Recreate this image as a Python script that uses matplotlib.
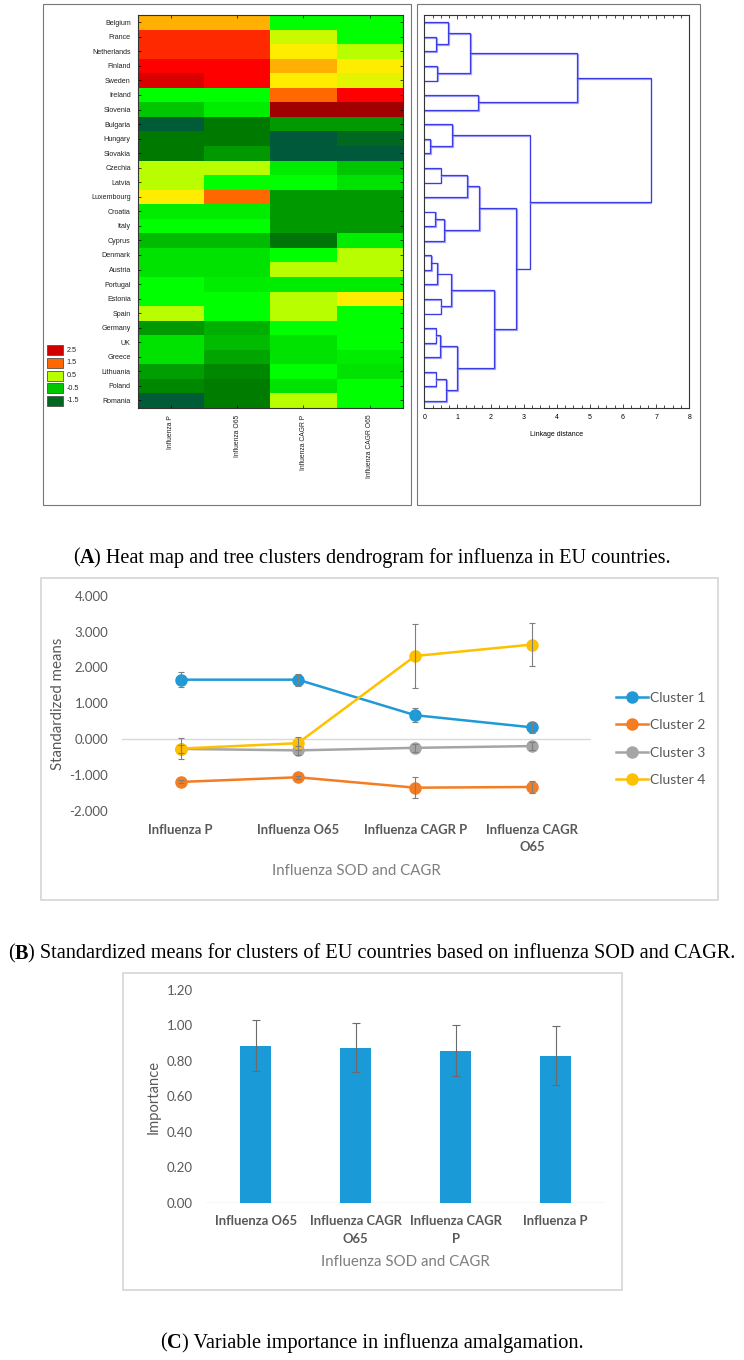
import matplotlib
matplotlib.use("Agg")
import matplotlib.pyplot as plt
import matplotlib.patheffects as pe
from matplotlib.colors import LinearSegmentedColormap, Normalize
from matplotlib.patches import Rectangle
from matplotlib.ticker import MultipleLocator

W, H = 744, 1360
SANS_A = "Liberation Sans"
SANS_B = "Lato"
SERIF = "Liberation Serif"
GREY_TXT = "#595959"

# ---- panel A data ----
countries = ["Belgium", "France", "Netherlands", "Finland", "Sweden", "Ireland", "Slovenia",
             "Bulgaria", "Hungary", "Slovakia", "Czechia", "Latvia", "Luxembourg", "Croatia",
             "Italy", "Cyprus", "Denmark", "Austria", "Portugal", "Estonia", "Spain", "Germany",
             "UK", "Greece", "Lithuania", "Poland", "Romania"]
heat_columns = ["Influenza P", "Influenza O65", "Influenza CAGR P", "Influenza CAGR O65"]
influenza_p = [1.2, 1.8, 1.8, 2.1, 2.4, 0.0, -0.5, -1.7, -1.25, -1.25, 0.5, 0.5, 0.9, -0.15,
               0.0, -0.6, -0.25, -0.25, 0.0, 0.0, 0.5, -0.9, -0.25, -0.25, -0.85, -1.1, -1.7]
influenza_o65 = [1.2, 1.8, 1.8, 2.1, 2.1, 0.0, -0.15, -1.25, -1.25, -0.9, 0.5, 0.0, 1.5, -0.15,
                 0.0, -0.6, -0.25, -0.25, -0.15, 0.0, 0.0, -0.7, -0.6, -0.8, -1.1, -1.2, -1.2]
cagr_p = [0.0, 0.6, 0.9, 1.2, 0.9, 1.5, 3.0, -0.9, -1.75, -1.75, -0.15, 0.0, -0.9, -0.9,
          -0.9, -1.3, 0.0, 0.5, -0.15, 0.5, 0.5, 0.0, -0.25, -0.25, 0.0, -0.25, 0.5]
cagr_o65 = [0.0, 0.0, 0.5, 0.9, 0.75, 2.1, 3.0, -0.9, -1.5, -1.75, -0.5, -0.25, -0.9, -0.9,
            -0.9, -0.15, 0.5, 0.5, -0.15, 0.9, 0.0, 0.0, 0.0, -0.15, -0.25, 0.0, 0.0]
legend_levels = [2.5, 1.5, 0.5, -0.5, -1.5]

# linkage table: (child a, child b, distance); leaves are 0..26 in row order
merges = [(1, 2, 0.36), (0, 27, 0.73), (3, 4, 0.39), (28, 29, 1.39), (5, 6, 1.63),
          (30, 31, 4.62), (8, 9, 0.18), (7, 33, 0.85), (10, 11, 0.49), (35, 12, 1.29),
          (13, 14, 0.33), (37, 15, 0.60), (36, 38, 1.66), (16, 17, 0.20), (40, 18, 0.38),
          (19, 20, 0.49), (41, 42, 0.80), (21, 22, 0.34), (44, 23, 0.48), (24, 25, 0.34),
          (46, 26, 0.67), (45, 47, 0.99), (43, 48, 2.11), (39, 49, 2.76), (34, 50, 3.18),
          (32, 51, 6.83)]

# ---- panel B data ----
variables = ["Influenza P", "Influenza O65", "Influenza CAGR P", "Influenza CAGR\nO65"]
cluster1 = [1.66, 1.66, 0.67, 0.33]
cluster2 = [-1.19, -1.06, -1.35, -1.33]
cluster3 = [-0.27, -0.31, -0.24, -0.19]
cluster4 = [-0.26, -0.11, 2.32, 2.64]
err1 = [0.20, 0.17, 0.20, 0.15]
err2 = [0.04, 0.04, 0.30, 0.17]
err3 = [0.10, 0.13, 0.12, 0.10]
err4 = [0.29, 0.18, 0.89, 0.60]
cluster_names = ["Cluster 1", "Cluster 2", "Cluster 3", "Cluster 4"]
cluster_colors = ["#1f9ad6", "#f47d24", "#a5a5a5", "#ffc000"]

# ---- panel C data ----
imp_labels = ["Influenza O65", "Influenza CAGR\nO65", "Influenza CAGR\nP", "Influenza P"]
importance = [0.885, 0.875, 0.857, 0.830]
imp_err = [0.143, 0.139, 0.143, 0.167]


def px_rect(x0, y0, x1, y1):
    return [x0 / W, 1 - y1 / H, (x1 - x0) / W, (y1 - y0) / H]


def frame(x0, y0, x1, y1, color, lw):
    fig.add_artist(Rectangle((x0 / W, 1 - y1 / H), (x1 - x0) / W, (y1 - y0) / H,
                             transform=fig.transFigure, fill=False, edgecolor=color, lw=lw))


def px_text(x, y, s, **kw):
    return fig.text(x / W, 1 - y / H, s, **kw)


def caption(y, letter, rest):
    parts = [("(", "normal"), (letter, "bold"), (") " + rest, "normal")]
    texts = [px_text(0, y, s, fontsize=14.6, family=SERIF, weight=w, va="center", color="black")
             for s, w in parts]
    renderer = fig.canvas.get_renderer()
    widths = [t.get_window_extent(renderer).width for t in texts]
    x = (W - sum(widths)) / 2
    for t, w in zip(texts, widths):
        t.set_x(x / W)
        x += w


fig = plt.figure(figsize=(W / 100, H / 100), dpi=100)

# ===== panel A: heat map =====
nodes = [(-2.0, "#005030"), (-1.75, "#005a3c"), (-1.25, "#007a00"), (-0.9, "#009a00"),
         (-0.5, "#00c800"), (0.0, "#00ff00"), (0.5, "#b8ff00"), (0.9, "#ffee00"),
         (1.2, "#ffb000"), (1.5, "#ff6a00"), (1.8, "#ff2a00"), (2.1, "#ff0000"),
         (2.4, "#dc0000"), (3.0, "#a00000")]
vmin, vmax = -2.0, 3.0
cmap = LinearSegmentedColormap.from_list(
    "statistica", [((v - vmin) / (vmax - vmin), c) for v, c in nodes])
norm = Normalize(vmin, vmax)

grid = [list(row) for row in zip(influenza_p, influenza_o65, cagr_p, cagr_o65)]
hax = fig.add_axes(px_rect(137.7, 15, 402.7, 407.7))
hax.imshow(grid, cmap=cmap, norm=norm, aspect="auto", interpolation="nearest")
hax.set_yticks(range(len(countries)))
hax.set_yticklabels(countries, fontsize=5.1, family=SANS_A, color="#222222")
hax.set_xticks(range(len(heat_columns)))
hax.set_xticklabels(heat_columns, rotation=90, fontsize=4.9, family=SANS_A, color="#222222")
hax.tick_params(axis="y", direction="in", length=2, width=0.5, left=True, right=True, pad=5)
hax.tick_params(axis="x", direction="in", length=2, width=0.5, top=True, bottom=True, pad=5)
for sp in hax.spines.values():
    sp.set_linewidth(0.8)
    sp.set_color("#333333")

lax = fig.add_axes(px_rect(46.7, 344.0, 100, 407.3))
lax.barh(range(len(legend_levels)), [1] * len(legend_levels), height=0.79,
         color=[cmap(norm(v)) for v in legend_levels], edgecolor="#505050", linewidth=0.6)
for i, lv in enumerate(legend_levels):
    lax.text(1.2, i, f"{lv:g}", va="center", fontsize=5.2, family=SANS_A, color="#222222")
lax.set_xlim(0, 3.2)
lax.set_ylim(len(legend_levels) - 0.5, -0.5)
lax.axis("off")

# ===== panel A: dendrogram =====
dax = fig.add_axes(px_rect(424.3, 15, 689.3, 408.3))
pos = {i: float(i) for i in range(len(countries))}
height = {i: 0.0 for i in range(len(countries))}
shadow = [pe.SimpleLineShadow(offset=(0.6, -0.6), shadow_color="#8a8aff", alpha=0.8), pe.Normal()]
for k, (a, b, d) in enumerate(merges):
    node = len(countries) + k
    dax.plot([height[a], d, d, height[b]], [pos[a], pos[a], pos[b], pos[b]],
             color="#3c3ce6", lw=0.9, path_effects=shadow, solid_joinstyle="miter")
    pos[node] = (pos[a] + pos[b]) / 2
    height[node] = d
dax.set_xlim(0, 8)
dax.set_ylim(len(countries) - 0.5, -0.5)
dax.set_yticks([])
dax.xaxis.set_major_locator(MultipleLocator(1))
dax.xaxis.set_minor_locator(MultipleLocator(0.25))
dax.tick_params(axis="x", which="both", direction="in", top=True, bottom=True, width=0.5,
                labelsize=5, pad=4)
dax.tick_params(axis="x", which="major", length=3)
dax.tick_params(axis="x", which="minor", length=2)
for lab in dax.get_xticklabels():
    lab.set_family(SANS_A)
for sp in dax.spines.values():
    sp.set_linewidth(0.8)
    sp.set_color("#333333")
px_text(556.8, 434.3, "Linkage distance", fontsize=5, family=SANS_A, ha="center", va="center")

frame(42.7, 4, 411, 505, "#777777", 0.8)
frame(417, 4, 700, 505, "#777777", 0.8)
caption(558, "A", "Heat map and tree clusters dendrogram for influenza in EU countries.")

# ===== panel B =====
bax = fig.add_axes(px_rect(122, 595.7, 591, 811))
x = range(len(variables))
series = [(cluster1, err1), (cluster2, err2), (cluster3, err3), (cluster4, err4)]
for (vals, errs), name, col in zip(series, cluster_names, cluster_colors):
    bax.plot(x, vals, "-o", color=col, lw=1.8, ms=8, label=name, zorder=3)
for (vals, errs), col in zip(series, cluster_colors):
    bax.errorbar(x, vals, yerr=errs, fmt="none", ecolor="#7f7f7f", elinewidth=0.8,
                 capsize=2.4, capthick=0.8, zorder=4)
bax.axhline(0, color="#d9d9d9", lw=1, zorder=1)
bax.set_xlim(-0.5, len(variables) - 0.5)
bax.set_ylim(-2, 4)
bax.set_yticks([-2, -1, 0, 1, 2, 3, 4])
bax.set_yticklabels([f"{v:.3f}" for v in [-2, -1, 0, 1, 2, 3, 4]], fontsize=9.5,
                    family=SANS_B, color=GREY_TXT)
bax.set_xticks(list(x))
bax.set_xticklabels(variables, fontsize=9.4, family=SANS_B, weight="bold", color=GREY_TXT)
bax.tick_params(axis="both", length=0)
bax.tick_params(axis="y", pad=10)
bax.tick_params(axis="x", pad=9)
for lab in bax.get_xticklabels():
    lab.set_linespacing(1.55)
for sp in bax.spines.values():
    sp.set_visible(False)
bax.legend(loc="center left", bbox_to_anchor=(616 / W, 1 - 739 / H), bbox_transform=fig.transFigure,
           frameon=False, borderpad=0, borderaxespad=0, handletextpad=0.15, handlelength=2.3,
           labelspacing=1.1, prop={"family": SANS_B, "size": 10}, labelcolor=GREY_TXT)
px_text(58.3, 703.4, "Standardized means", rotation=90, fontsize=10.8, family=SANS_B,
        color=GREY_TXT, ha="center", va="center")
px_text(356.5, 871, "Influenza SOD and CAGR", fontsize=10.8, family=SANS_B,
        color="#7f7f7f", ha="center", va="center")
frame(41, 578, 718, 900, "#d9d9d9", 1.3)
caption(954, "B", "Standardized means for clusters of EU countries based on influenza SOD and CAGR.")

# ===== panel C =====
cax = fig.add_axes(px_rect(205.7, 990, 605.7, 1202.7))
cx = range(len(imp_labels))
cax.bar(cx, importance, width=0.31, color="#1a9ad6", zorder=2)
cax.errorbar(cx, importance, yerr=imp_err, fmt="none", ecolor="#6b6b6b", elinewidth=0.8,
             capsize=2.6, capthick=0.8, zorder=3)
cax.axhline(0, color="#d9d9d9", lw=1, zorder=1)
cax.set_xlim(-0.5, len(imp_labels) - 0.5)
cax.set_ylim(0, 1.2)
ticks_c = [0.0, 0.2, 0.4, 0.6, 0.8, 1.0, 1.2]
cax.set_yticks(ticks_c)
cax.set_yticklabels([f"{v:.2f}" for v in ticks_c], fontsize=9.5, family=SANS_B, color=GREY_TXT)
cax.set_xticks(list(cx))
cax.set_xticklabels(imp_labels, fontsize=9.4, family=SANS_B, weight="bold", color=GREY_TXT)
cax.tick_params(axis="both", length=0)
cax.tick_params(axis="y", pad=9.5)
cax.tick_params(axis="x", pad=9)
for lab in cax.get_xticklabels():
    lab.set_linespacing(1.55)
for sp in cax.spines.values():
    sp.set_visible(False)
px_text(153.3, 1097, "Importance", rotation=90, fontsize=10.6, family=SANS_B,
        color=GREY_TXT, ha="center", va="center")
px_text(405.7, 1262.3, "Influenza SOD and CAGR", fontsize=10.8, family=SANS_B,
        color="#7f7f7f", ha="center", va="center")
frame(123.3, 973, 622, 1290, "#d9d9d9", 1.3)
caption(1343, "C", "Variable importance in influenza amalgamation.")

fig.savefig("out.png", dpi=100)
plt.close(fig)
